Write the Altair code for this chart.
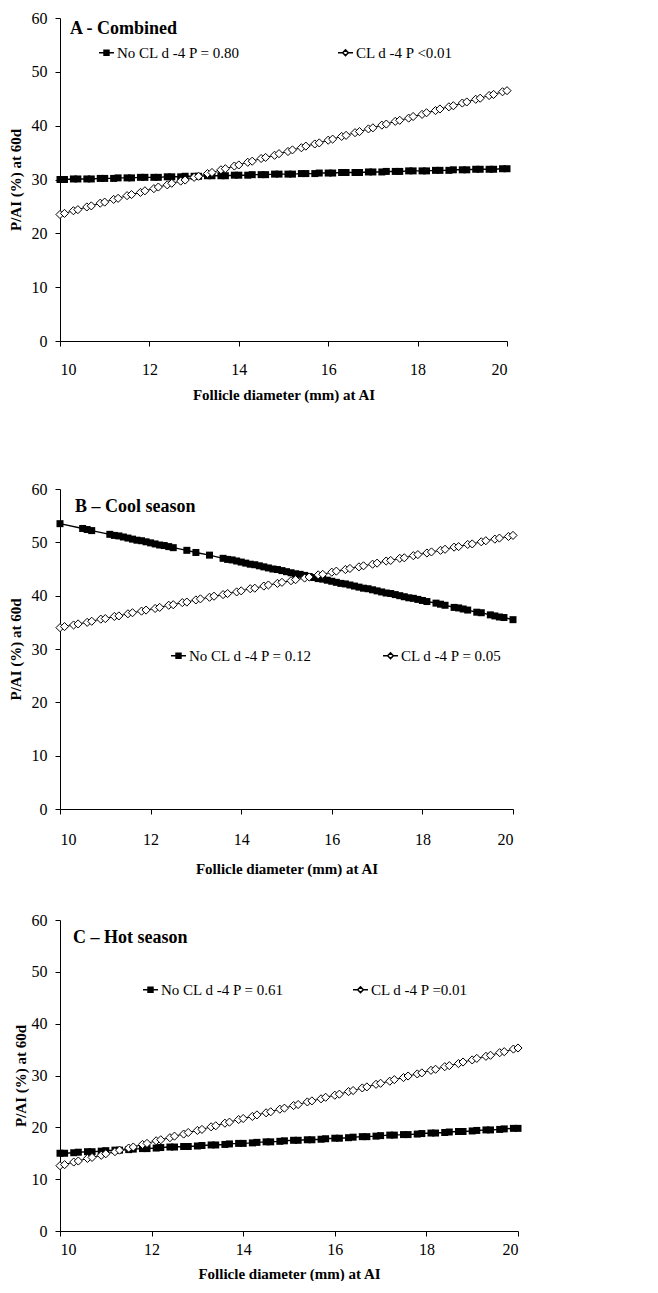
import altair as alt
import pandas as pd

# ---------------- data ----------------
follicle_mm = [10.0, 10.1, 10.3, 10.4, 10.6, 10.7, 10.9, 11.0, 11.2, 11.3, 11.5, 11.6,
               11.8, 11.9, 12.1, 12.2, 12.4, 12.5, 12.7, 12.8, 13.0, 13.1, 13.3, 13.4,
               13.6, 13.7, 13.9, 14.0, 14.2, 14.3, 14.5, 14.6, 14.8, 14.9, 15.1, 15.2,
               15.4, 15.5, 15.7, 15.8, 16.0, 16.1, 16.3, 16.4, 16.6, 16.7, 16.9, 17.0,
               17.2, 17.3, 17.5, 17.6, 17.8, 17.9, 18.1, 18.2, 18.4, 18.5, 18.7, 18.8,
               19.0, 19.1, 19.3, 19.4, 19.6, 19.7, 19.9, 20.0]

a_nocl = [30.0, 30.0, 30.1, 30.1, 30.1, 30.1, 30.2, 30.2, 30.2, 30.3, 30.3, 30.3,
          30.4, 30.4, 30.4, 30.4, 30.5, 30.5, 30.5, 30.6, 30.6, 30.6, 30.7, 30.7,
          30.7, 30.7, 30.8, 30.8, 30.8, 30.9, 30.9, 30.9, 31.0, 31.0, 31.0, 31.0,
          31.1, 31.1, 31.1, 31.2, 31.2, 31.2, 31.3, 31.3, 31.3, 31.3, 31.4, 31.4,
          31.4, 31.5, 31.5, 31.5, 31.6, 31.6, 31.6, 31.6, 31.7, 31.7, 31.7, 31.8,
          31.8, 31.8, 31.9, 31.9, 31.9, 31.9, 32.0, 32.0]
a_cl = [23.5, 23.7, 24.2, 24.4, 24.9, 25.1, 25.6, 25.8, 26.3, 26.5, 27.0, 27.2,
        27.6, 27.9, 28.3, 28.6, 29.0, 29.3, 29.7, 29.9, 30.4, 30.6, 31.1, 31.3,
        31.8, 32.0, 32.5, 32.7, 33.2, 33.4, 33.9, 34.1, 34.5, 34.8, 35.2, 35.5,
        35.9, 36.2, 36.6, 36.8, 37.3, 37.5, 38.0, 38.2, 38.7, 38.9, 39.4, 39.6,
        40.1, 40.3, 40.8, 41.0, 41.4, 41.7, 42.1, 42.4, 42.8, 43.1, 43.5, 43.7,
        44.2, 44.4, 44.9, 45.1, 45.6, 45.8, 46.3, 46.5]

b_nocl_mm = [10.0, 10.5, 10.6, 10.7, 11.1, 11.2, 11.3, 11.4, 11.5, 11.6, 11.7, 11.8,
             11.9, 12.0, 12.1, 12.2, 12.3, 12.4, 12.5, 12.8, 13.0, 13.3, 13.6, 13.7,
             13.8, 13.9, 14.0, 14.1, 14.2, 14.3, 14.4, 14.5, 14.6, 14.7, 14.8, 14.9,
             15.0, 15.1, 15.2, 15.3, 15.4, 15.5, 15.6, 15.7, 15.8, 15.9, 16.0, 16.1,
             16.2, 16.3, 16.4, 16.5, 16.6, 16.7, 16.8, 16.9, 17.0, 17.1, 17.2, 17.3,
             17.4, 17.5, 17.6, 17.7, 17.8, 17.9, 18.0, 18.1, 18.3, 18.4, 18.5, 18.7,
             18.8, 18.9, 19.0, 19.2, 19.3, 19.5, 19.6, 19.7, 19.8, 20.0]
b_nocl = [53.5, 52.6, 52.4, 52.2, 51.5, 51.3, 51.2, 51.0, 50.8, 50.6, 50.4, 50.3,
          50.1, 49.9, 49.7, 49.5, 49.4, 49.2, 49.0, 48.5, 48.1, 47.6, 47.0, 46.8,
          46.7, 46.5, 46.3, 46.1, 45.9, 45.8, 45.6, 45.4, 45.2, 45.0, 44.9, 44.7,
          44.5, 44.3, 44.1, 44.0, 43.8, 43.6, 43.4, 43.2, 43.1, 42.9, 42.7, 42.5,
          42.3, 42.2, 42.0, 41.8, 41.6, 41.4, 41.3, 41.1, 40.9, 40.7, 40.5, 40.4,
          40.2, 40.0, 39.8, 39.6, 39.5, 39.3, 39.1, 38.9, 38.6, 38.4, 38.2, 37.8,
          37.7, 37.5, 37.3, 36.9, 36.8, 36.4, 36.2, 36.0, 35.9, 35.5]
b_cl = [34.0, 34.2, 34.5, 34.7, 35.0, 35.2, 35.6, 35.7, 36.1, 36.2, 36.6, 36.8,
        37.1, 37.3, 37.6, 37.8, 38.2, 38.3, 38.7, 38.8, 39.2, 39.4, 39.7, 39.9,
        40.2, 40.4, 40.7, 40.9, 41.3, 41.4, 41.8, 42.0, 42.3, 42.5, 42.8, 43.0,
        43.3, 43.5, 43.9, 44.0, 44.4, 44.6, 44.9, 45.1, 45.4, 45.6, 45.9, 46.1,
        46.5, 46.6, 47.0, 47.1, 47.5, 47.7, 48.0, 48.2, 48.5, 48.7, 49.1, 49.2,
        49.6, 49.7, 50.1, 50.3, 50.6, 50.8, 51.1, 51.3]

c_nocl = [15.0, 15.0, 15.1, 15.2, 15.3, 15.3, 15.4, 15.5, 15.6, 15.6, 15.7, 15.8,
          15.9, 15.9, 16.0, 16.1, 16.2, 16.2, 16.3, 16.3, 16.4, 16.5, 16.6, 16.6,
          16.7, 16.8, 16.9, 16.9, 17.0, 17.1, 17.2, 17.2, 17.3, 17.4, 17.5, 17.5,
          17.6, 17.6, 17.7, 17.8, 17.9, 17.9, 18.0, 18.1, 18.2, 18.2, 18.3, 18.4,
          18.5, 18.5, 18.6, 18.6, 18.7, 18.8, 18.9, 18.9, 19.0, 19.1, 19.2, 19.2,
          19.3, 19.4, 19.5, 19.5, 19.6, 19.7, 19.8, 19.8]
c_cl = [12.6, 12.8, 13.3, 13.5, 14.0, 14.2, 14.6, 14.9, 15.3, 15.6, 16.0, 16.2,
        16.7, 16.9, 17.4, 17.6, 18.0, 18.3, 18.7, 19.0, 19.4, 19.6, 20.1, 20.3,
        20.8, 21.0, 21.5, 21.7, 22.1, 22.4, 22.8, 23.0, 23.5, 23.7, 24.2, 24.4,
        24.9, 25.1, 25.5, 25.8, 26.2, 26.4, 26.9, 27.1, 27.6, 27.8, 28.3, 28.5,
        28.9, 29.2, 29.6, 29.9, 30.3, 30.5, 31.0, 31.2, 31.7, 31.9, 32.3, 32.6,
        33.0, 33.3, 33.7, 33.9, 34.4, 34.6, 35.1, 35.3]

panel_titles = ["A - Combined", "B \u2013 Cool season", "C \u2013 Hot season"]
nocl_labels = ["No CL d -4 P = 0.80", "No CL d -4 P = 0.12", "No CL d -4 P = 0.61"]
cl_labels = ["CL d -4 P <0.01", "CL d -4 P = 0.05", "CL d -4 P =0.01"]
x_ticks = [10, 12, 14, 16, 18, 20]
y_ticks = [0, 10, 20, 30, 40, 50, 60]
x_title = "Follicle diameter (mm) at AI"
y_title = "P/AI (%) at 60d"

FONT = "Liberation Serif"
SQ_PATH = "M-1,0L1,0M-0.33,-0.33L0.33,-0.33L0.33,0.33L-0.33,0.33Z"
DM_PATH = "M-1,0L-0.38,0M0.38,0L1,0M0,-0.38L0.38,0L0,0.38L-0.38,0Z"


def panel(idx, nocl_x, nocl_y, cl_x, cl_y, w, h, lx, ly, colpad, tx, ty,
          x_lp, x_tp, y_tp):
    l1, l2 = nocl_labels[idx], cl_labels[idx]
    df = pd.concat([
        pd.DataFrame({"x": nocl_x, "y": nocl_y, "grp": "nocl", "series": l1}),
        pd.DataFrame({"x": cl_x, "y": cl_y, "grp": "cl", "series": l2}),
    ], ignore_index=True)
    base = alt.Chart(df)
    xe = alt.X("x:Q", scale=alt.Scale(domain=[10, 20], nice=False, zero=False),
               axis=alt.Axis(values=x_ticks, title=x_title, labelPadding=x_lp,
                             titlePadding=x_tp))
    ye = alt.Y("y:Q", scale=alt.Scale(domain=[0, 60], nice=False),
               axis=alt.Axis(values=y_ticks, title=y_title, titlePadding=y_tp))
    nocl = base.transform_filter(alt.datum.grp == "nocl")
    cl = base.transform_filter(alt.datum.grp == "cl")
    line1 = nocl.mark_line(color="black", strokeWidth=1.4).encode(x=xe, y=ye)
    pts1 = nocl.mark_point(shape="square", filled=True, color="black", size=49,
                           opacity=1).encode(x=xe, y=ye)
    line2 = cl.mark_line(color="black", strokeWidth=1.0).encode(x=xe, y=ye)
    pts2 = cl.mark_point(shape="diamond", filled=True, fill="white", stroke="black",
                         strokeWidth=1.0, size=66, opacity=1).encode(x=xe, y=ye)
    leg = alt.Legend(title=None, orient="none", legendX=lx, legendY=ly,
                     direction="horizontal", columnPadding=colpad,
                     labelFont=FONT, labelFontSize=15, labelColor="black",
                     symbolSize=225, symbolStrokeWidth=1.5, symbolStrokeColor="black",
                     labelOffset=2, padding=0, labelLimit=300)
    legend_layer = base.transform_filter("false").mark_point(
        filled=True, stroke="black", strokeWidth=1.5, opacity=1).encode(
        x=xe, y=ye,
        shape=alt.Shape("series:N", scale=alt.Scale(domain=[l1, l2], range=[SQ_PATH, DM_PATH]),
                        legend=leg),
        color=alt.Color("series:N", scale=alt.Scale(domain=[l1, l2], range=["black", "white"]),
                        legend=leg),
    )
    label = alt.Chart(pd.DataFrame({"t": [panel_titles[idx]]})).mark_text(
        align="left", baseline="middle", font=FONT, fontSize=18, fontWeight="bold",
        color="black").encode(x=alt.value(tx), y=alt.value(ty), text="t:N")
    return alt.layer(line1, pts1, line2, pts2, legend_layer, label).properties(
        width=w, height=h)


pa = panel(0, follicle_mm, a_nocl, follicle_mm, a_cl, 447, 323, 38, 26, 94, 10, 11,
           15, 10, 8)
pb = panel(1, b_nocl_mm, b_nocl, follicle_mm, b_cl, 453, 320, 110, 158, 67, 15, 18,
           17, 14, 8)
pc = panel(2, follicle_mm, c_nocl, follicle_mm, c_cl, 458, 311, 82, 61, 65, 13, 18,
           5, 9, 3)

inner = alt.vconcat(pb, pc, spacing=36).resolve_scale(
    shape="independent", color="independent").resolve_legend(
    shape="independent", color="independent")
chart = alt.vconcat(pa, inner, spacing=79).resolve_scale(
    shape="independent", color="independent").resolve_legend(
    shape="independent", color="independent").properties(
    padding={"top": 2, "left": 0, "right": 0, "bottom": 0}
).configure_view(stroke=None).configure_axis(
    grid=False, domainColor="black", tickColor="black", labelColor="black",
    titleColor="black", labelFont=FONT, titleFont=FONT, labelFontSize=16,
    tickSize=5, labelPadding=8, titleFontWeight="bold",
).configure_axisX(titleFontSize=15).configure_axisY(titleFontSize=15)

chart.save("out.html", embed_options={"renderer": "svg", "actions": False})
